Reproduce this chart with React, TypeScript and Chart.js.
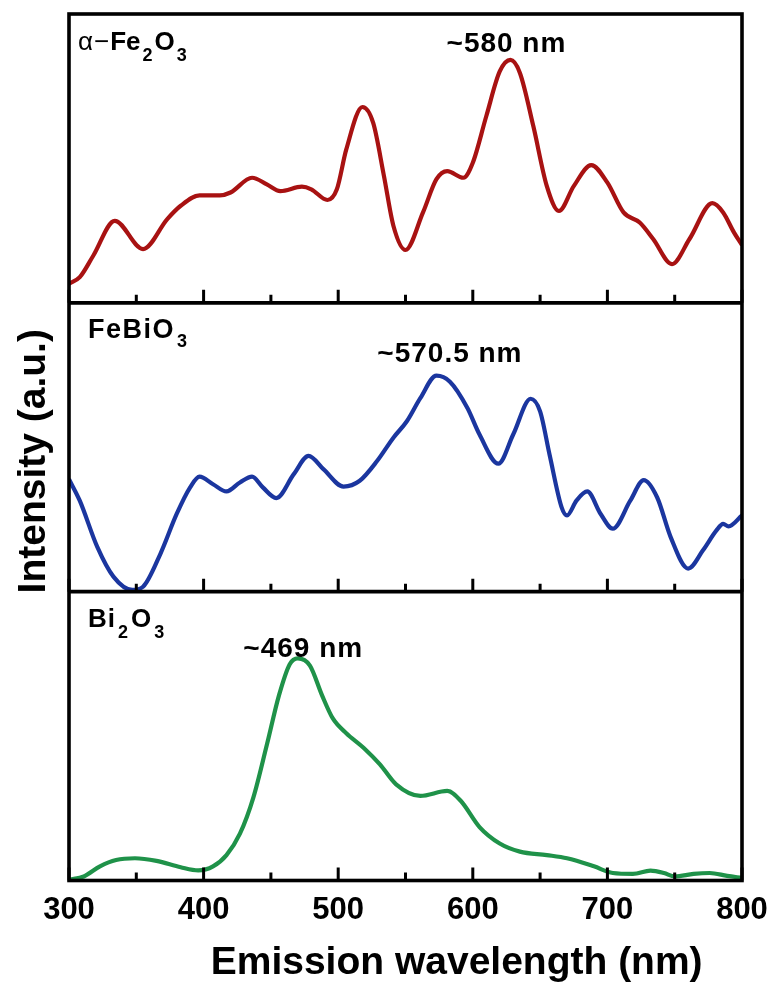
import { useEffect, useRef } from 'react';
import { Chart, registerables } from 'chart.js';

Chart.register(...registerables);

const FONT = '"Liberation Sans", Arial, Helvetica, sans-serif';

// ---- data (intensity in a.u., 0–100 within each panel) ----
const fe2o3Wavelength = [300, 308, 318, 334, 355, 373, 383, 397, 412, 420, 436, 447, 457, 473, 480, 492, 499, 506, 518, 526, 534, 541, 550, 563, 573, 581, 593, 600, 610, 620, 628, 635, 645, 655, 664, 675, 688, 700, 712, 724, 734, 748, 761, 778, 786, 794, 800];
const fe2o3Intensity = [6.6, 8.9, 16.3, 28.4, 18.6, 29.0, 33.6, 37.2, 37.2, 38.2, 43.3, 41.0, 38.7, 40.2, 39.3, 35.6, 39.3, 53.1, 67.8, 62.3, 43.9, 26.7, 18.3, 31.3, 42.8, 45.6, 43.3, 48.5, 64.6, 80.1, 84.1, 79.6, 61.1, 40.4, 31.8, 40.4, 47.7, 41.6, 31.3, 27.8, 22.1, 13.4, 22.1, 34.5, 31.3, 24.4, 20.0];

const febio3Wavelength = [300, 308, 321, 333, 347, 355, 368, 380, 390, 397, 407, 417, 427, 436, 444, 454, 467, 478, 489, 504, 516, 529, 541, 551, 561, 573, 583, 596, 605, 619, 630, 643, 650, 657, 666, 670, 677, 685, 695, 704, 717, 727, 737, 747, 760, 771, 781, 786, 790, 800];
const febio3Intensity = [38.9, 31.5, 15.5, 5.2, 0.6, 1.7, 13.2, 26.9, 36.1, 39.8, 37.2, 34.7, 37.8, 39.8, 36.1, 32.4, 40.7, 47.0, 42.4, 36.4, 38.4, 45.3, 53.3, 59.0, 67.0, 74.8, 72.7, 63.6, 54.4, 44.3, 54.4, 66.8, 62.4, 47.5, 29.2, 26.4, 31.5, 34.7, 26.9, 21.8, 31.5, 38.6, 32.6, 18.9, 8.0, 14.3, 21.2, 23.5, 22.6, 26.4];

const bi2o3Wavelength = [300, 311, 323, 335, 349, 365, 383, 396, 407, 417, 427, 437, 447, 456, 464, 470, 479, 488, 496, 506, 519, 531, 543, 561, 581, 591, 605, 620, 635, 655, 670, 690, 704, 719, 732, 742, 750, 764, 776, 789, 800];
const bi2o3Intensity = [0.3, 1.4, 4.9, 7.1, 7.7, 6.8, 4.6, 3.5, 4.9, 8.8, 16.2, 28.8, 47.0, 64.1, 74.9, 76.9, 74.4, 64.1, 56.1, 51.0, 45.9, 40.2, 33.3, 29.3, 31.0, 27.6, 18.5, 12.8, 10.0, 8.8, 7.7, 4.9, 2.6, 2.3, 3.4, 2.6, 1.4, 2.3, 2.6, 1.6, 0.9];

const xTickValues = [300, 400, 500, 600, 700, 800];
const xMinorTicks = [350, 450, 550, 650, 750];

const xTitle = 'Emission wavelength (nm)';
const yTitle = 'Intensity (a.u.)';

// panel labels: [text, kind] kind: b = bold, n = normal, s = subscript
const panelLabels: [string, string][][] = [
  [['α', 'n'], ['−', 'n'], ['Fe', 'b'], ['2', 's'], ['O', 'b'], ['3', 's']],
  [['FeBiO', 'b'], ['3', 's']],
  [['Bi', 'b'], ['2', 's'], ['O', 'b'], ['3', 's']],
];
const peakLabels = ['~580 nm', '~570.5 nm', '~469 nm'];
const peakLabelWavelength = [625, 583, 474];

const PANEL_BASE = [2, 1, 0];
const COLORS = ['#a81212', '#1b369f', '#1f9249'];

export default function App() {
  const ref = useRef<HTMLCanvasElement>(null);

  useEffect(() => {
    const canvas = ref.current;
    if (!canvas) return;

    const toPoints = (wl: number[], inten: number[], base: number) =>
      wl.map((x, i) => ({ x, y: base + inten[i] / 100 }));

    const framePlugin = {
      id: 'panelFrame',
      afterDatasetsDraw(chart: any) {
        const { ctx, chartArea: a, scales } = chart;
        const xs = scales.x;
        const ys = scales.y;
        ctx.save();
        ctx.strokeStyle = '#000';
        ctx.lineCap = 'butt';
        ctx.lineWidth = 3;
        for (const base of [0, 1, 2]) {
          const py = ys.getPixelForValue(base);
          ctx.beginPath();
          for (const v of xTickValues) {
            const px = xs.getPixelForValue(v);
            ctx.moveTo(px, py);
            ctx.lineTo(px, py - 13);
          }
          for (const v of xMinorTicks) {
            const px = xs.getPixelForValue(v);
            ctx.moveTo(px, py);
            ctx.lineTo(px, py - 8);
          }
          ctx.stroke();
        }
        ctx.lineWidth = 3.6;
        ctx.strokeRect(a.left, a.top, a.right - a.left, a.bottom - a.top);
        ctx.beginPath();
        for (const base of [1, 2]) {
          const py = ys.getPixelForValue(base);
          ctx.moveTo(a.left, py);
          ctx.lineTo(a.right, py);
        }
        ctx.stroke();
        ctx.restore();
      },
    };

    const labelX = [9, 19, 19];
    const labelDy = [36, 35, 35];
    const labelSize = [26, 27, 26];
    const labelSpacing = ['0px', '1.5px', '1px'];
    const subDy = [11, 9, 11];
    const peakDy = [38, 59, 65];

    const textPlugin = {
      id: 'panelText',
      afterDraw(chart: any) {
        const { ctx, chartArea: a, scales } = chart;
        const xs = scales.x;
        const ys = scales.y;
        ctx.save();
        ctx.fillStyle = '#000';
        ctx.textBaseline = 'alphabetic';
        PANEL_BASE.forEach((base, p) => {
          const top = ys.getPixelForValue(base + 1);
          ctx.textAlign = 'left';
          (ctx as any).letterSpacing = labelSpacing[p];
          let cx = a.left + labelX[p];
          const by = top + labelDy[p];
          for (const [t, kind] of panelLabels[p]) {
            ctx.font =
              kind === 's'
                ? `bold 18px ${FONT}`
                : kind === 'n'
                ? `${labelSize[p]}px ${FONT}`
                : `bold ${labelSize[p]}px ${FONT}`;
            const dy = kind === 's' ? subDy[p] : 0;
            ctx.fillText(t, cx, by + dy);
            cx += ctx.measureText(t).width + (kind === 'n' ? 1 : 2);
          }
          (ctx as any).letterSpacing = '1px';
          ctx.textAlign = 'center';
          ctx.font = `bold 28px ${FONT}`;
          ctx.fillText(peakLabels[p], xs.getPixelForValue(peakLabelWavelength[p]), top + peakDy[p]);
        });
        ctx.restore();

        // axis titles
        ctx.save();
        ctx.fillStyle = '#000';
        ctx.font = `bold 39px ${FONT}`;
        ctx.textAlign = 'center';
        ctx.textBaseline = 'alphabetic';
        ctx.fillText(xTitle, xs.getPixelForValue(588), a.bottom + 93);

        const yCenter = (a.top + a.bottom) / 2 + 14;
        ctx.translate(45, yCenter);
        ctx.rotate(-Math.PI / 2);
        ctx.fillText(yTitle, 0, 0);
        ctx.restore();
      },
    };

    const chart = new Chart(canvas, {
      type: 'line',
      data: {
        datasets: [
          { label: 'α-Fe2O3', data: toPoints(fe2o3Wavelength, fe2o3Intensity, PANEL_BASE[0]), borderColor: COLORS[0] },
          { label: 'FeBiO3', data: toPoints(febio3Wavelength, febio3Intensity, PANEL_BASE[1]), borderColor: COLORS[1] },
          { label: 'Bi2O3', data: toPoints(bi2o3Wavelength, bi2o3Intensity, PANEL_BASE[2]), borderColor: COLORS[2] },
        ].map((d) => ({
          ...d,
          borderWidth: 4.2,
          pointRadius: 0,
          fill: false,
          cubicInterpolationMode: 'monotone' as const,
        })),
      },
      options: {
        responsive: false,
        animation: false,
        devicePixelRatio: 1,
        layout: { padding: { left: 69, right: 33, top: 14, bottom: 48 } },
        plugins: { legend: { display: false }, tooltip: { enabled: false } },
        scales: {
          x: {
            type: 'linear',
            min: 300,
            max: 800,
            afterBuildTicks: (s: any) => {
              s.ticks = xTickValues.map((v) => ({ value: v }));
            },
            grid: { display: false, drawTicks: false },
            border: { display: false },
            ticks: {
              padding: 7,
              color: '#000',
              maxRotation: 0,
              font: { family: FONT, size: 31, weight: 'bold', lineHeight: 1.5 },
            },
          },
          y: {
            type: 'linear',
            display: false,
            min: 0,
            max: 3,
          },
        },
      } as any,
      plugins: [framePlugin, textPlugin],
    });

    return () => chart.destroy();
  }, []);

  return (
    <div style={{ position: 'absolute', left: 0, top: 0, width: 775, height: 989, background: '#fff' }}>
      <canvas ref={ref} width={775} height={989} style={{ display: 'block', width: 775, height: 989 }} />
    </div>
  );
}
